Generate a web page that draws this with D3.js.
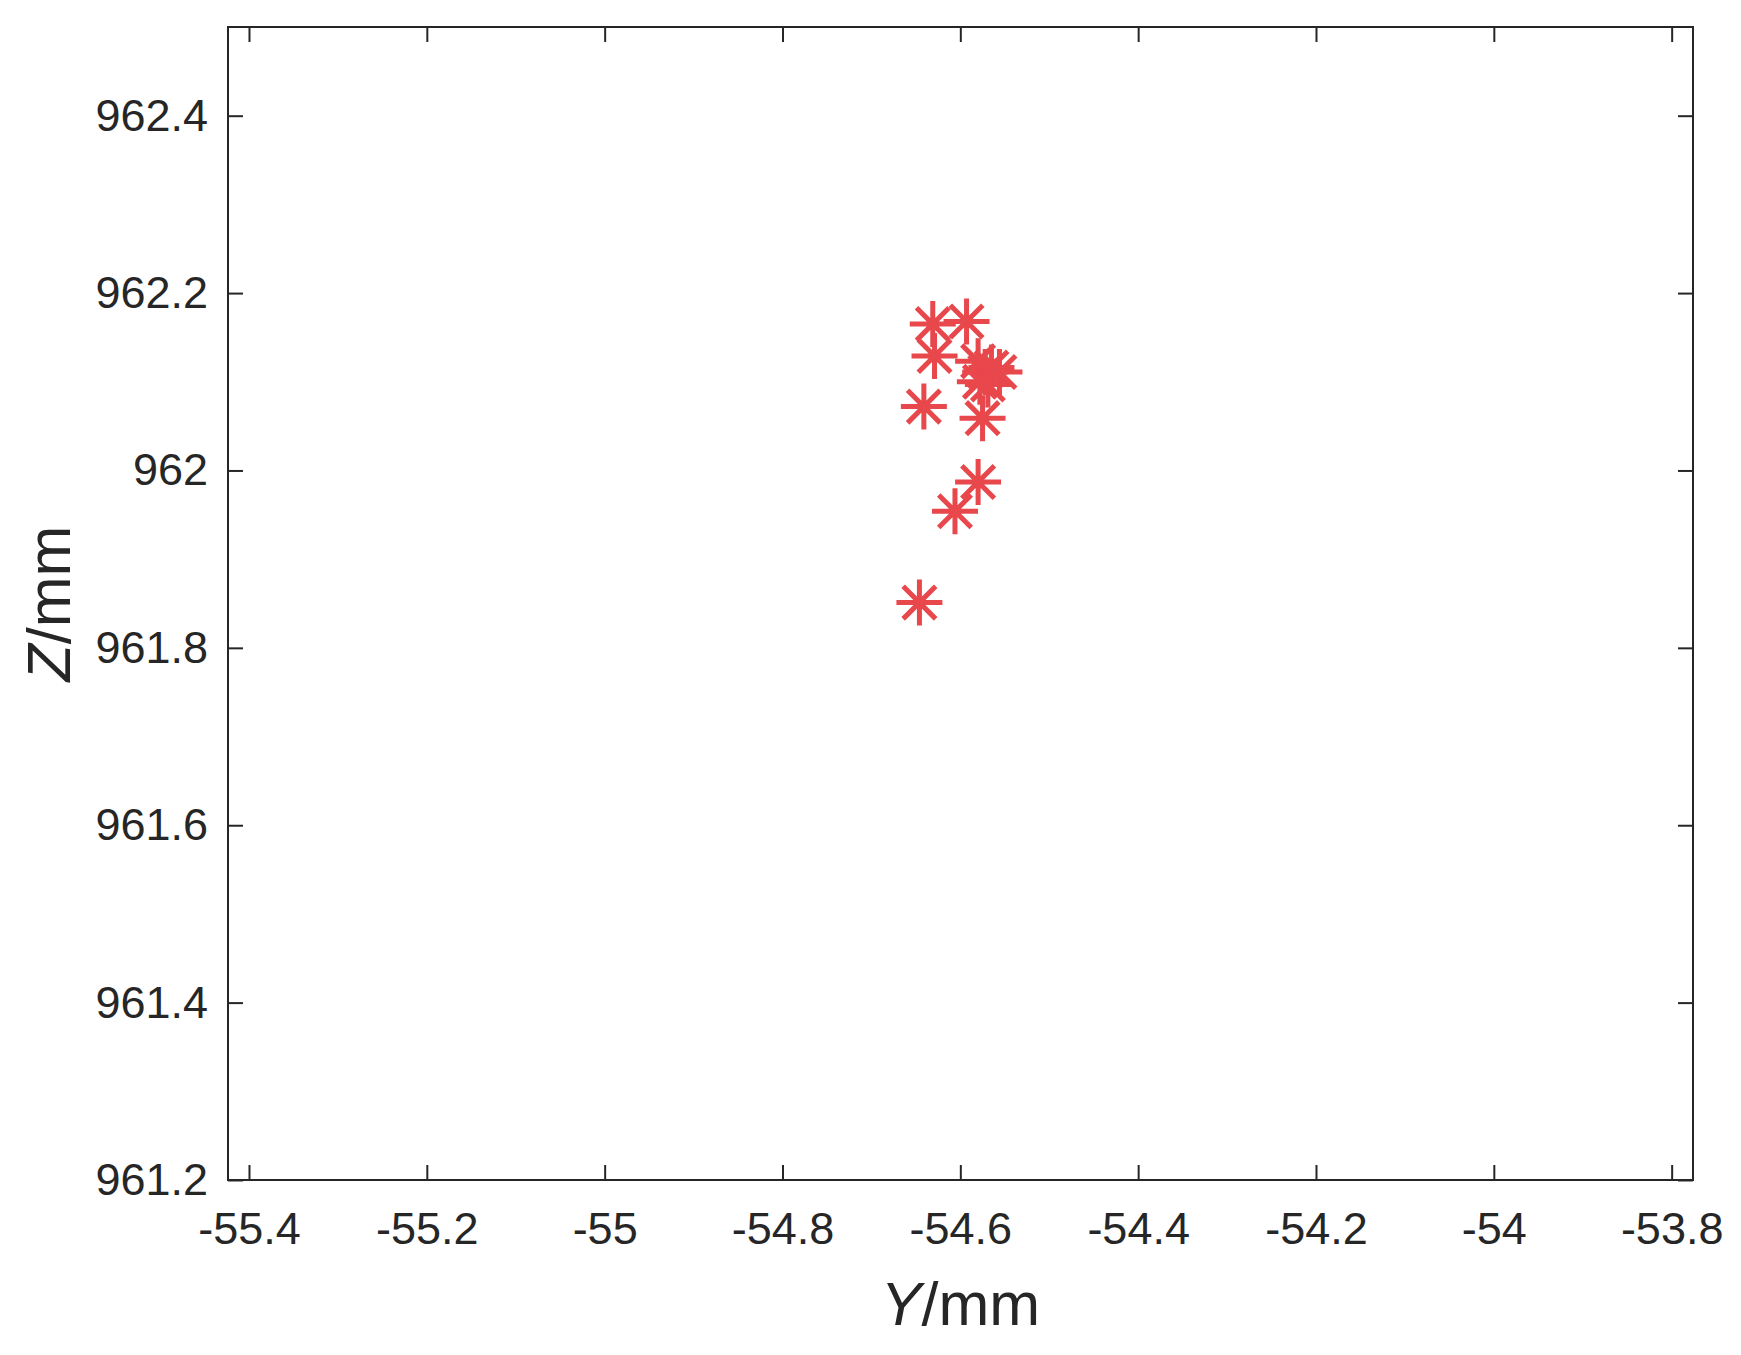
<!DOCTYPE html>
<html>
<head>
<meta charset="utf-8">
<script src="https://cdn.jsdelivr.net/npm/d3@7"></script>
<style>
  body { margin: 0; background: #fff; }
  svg { display: block; }
</style>
</head>
<body>
<svg></svg>
<script>
var width = 1741;
var height = 1355;
var margin = {top: 27, right: 48, bottom: 175, left: 228};

// measured points (Y, Z) in mm
var yVals = [-54.631, -54.593, -54.629, -54.580, -54.572, -54.565, -54.578, -54.569, -54.556, -54.641, -54.575, -54.580, -54.606, -54.646];
var zVals = [962.165, 962.168, 962.129, 962.123, 962.111, 962.116, 962.100, 962.097, 962.111, 962.072, 962.059, 961.987, 961.954, 961.851];

var xTicks = [-55.4, -55.2, -55, -54.8, -54.6, -54.4, -54.2, -54, -53.8];
var yTicks = [961.2, 961.4, 961.6, 961.8, 962, 962.2, 962.4];

var points = yVals.map((d, i) => [d, zVals[i]]);

var x = d3.scaleLinear()
    .domain([-55.4236, -53.776])
    .range([margin.left, width - margin.right]);

var y = d3.scaleLinear()
    .domain([961.2, 962.5])
    .range([height - margin.bottom, margin.top]);

const svg = d3.select('svg')
    .attr("width", width)
    .attr("height", height)
    .attr("font-family", "'Liberation Sans', Arial, sans-serif");

var axisColor = "#262626";
var fmt = d => String(+d.toFixed(1));

// bottom axis with labels
svg.append("g")
    .attr("transform", `translate(0,${height - margin.bottom})`)
    .call(d3.axisBottom(x).tickValues(xTicks).tickFormat(fmt).tickSizeInner(-15).tickSizeOuter(0).tickPadding(32))
    .call(g => g.select(".domain").remove())
    .call(g => g.selectAll("line").attr("stroke", axisColor).attr("stroke-width", 2))
    .call(g => g.selectAll("text").attr("fill", axisColor).attr("font-size", 45));

// top ticks (mirrored)
svg.append("g")
    .attr("transform", `translate(0,${margin.top})`)
    .call(d3.axisTop(x).tickValues(xTicks).tickFormat("").tickSizeInner(-15).tickSizeOuter(0))
    .call(g => g.select(".domain").remove())
    .call(g => g.selectAll("line").attr("stroke", axisColor).attr("stroke-width", 2));

// left axis with labels
svg.append("g")
    .attr("transform", `translate(${margin.left},0)`)
    .call(d3.axisLeft(y).tickValues(yTicks).tickFormat(fmt).tickSizeInner(-15).tickSizeOuter(0).tickPadding(20))
    .call(g => g.select(".domain").remove())
    .call(g => g.selectAll("line").attr("stroke", axisColor).attr("stroke-width", 2))
    .call(g => g.selectAll("text").attr("fill", axisColor).attr("font-size", 45));

// right ticks
svg.append("g")
    .attr("transform", `translate(${width - margin.right},0)`)
    .call(d3.axisRight(y).tickValues(yTicks).tickFormat("").tickSizeInner(-15).tickSizeOuter(0))
    .call(g => g.select(".domain").remove())
    .call(g => g.selectAll("line").attr("stroke", axisColor).attr("stroke-width", 2));

// box
svg.append("rect")
    .attr("x", margin.left)
    .attr("y", margin.top)
    .attr("width", width - margin.left - margin.right)
    .attr("height", height - margin.top - margin.bottom)
    .attr("fill", "none")
    .attr("stroke", axisColor)
    .attr("stroke-width", 2);

// asterisk markers
var r = 23;
var arms = d3.range(4).map(k => k * Math.PI / 4);
var star = arms.map(a => `M${-r * Math.cos(a)},${-r * Math.sin(a)}L${r * Math.cos(a)},${r * Math.sin(a)}`).join("");

svg.append("g")
    .selectAll("path")
    .data(points)
    .join("path")
    .attr("transform", d => `translate(${x(d[0])},${y(d[1])})`)
    .attr("d", star)
    .attr("fill", "none")
    .attr("stroke", "#e8474c")
    .attr("stroke-width", 5);

// axis titles
var xLabel = svg.append("text")
    .attr("x", (margin.left + width - margin.right) / 2)
    .attr("y", 1325)
    .attr("text-anchor", "middle")
    .attr("font-size", 61)
    .attr("fill", axisColor);
xLabel.append("tspan").attr("font-style", "italic").text("Y");
xLabel.append("tspan").text("/mm");

var yLabel = svg.append("text")
    .attr("transform", `translate(70,${(margin.top + height - margin.bottom) / 2}) rotate(-90)`)
    .attr("text-anchor", "middle")
    .attr("font-size", 61)
    .attr("fill", axisColor);
yLabel.append("tspan").attr("font-style", "italic").text("Z");
yLabel.append("tspan").text("/mm");
</script>
</body>
</html>
